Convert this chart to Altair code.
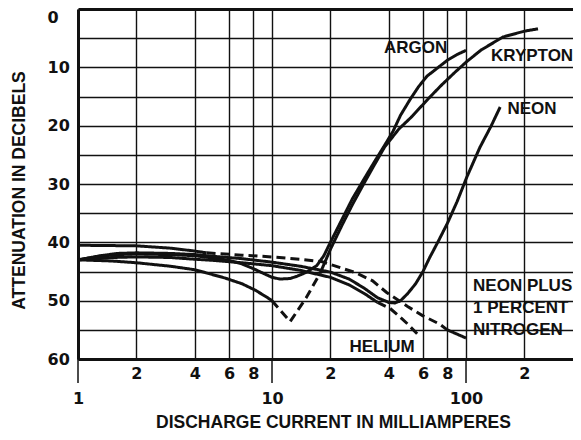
import altair as alt
import pandas as pd

# ---- data: discharge current (mA) and attenuation (dB) ----
ARGON_MA = [1, 1.3, 1.6, 2, 3, 4, 5, 6, 7, 8, 9, 10, 11, 12.4, 13.5, 15.1, 17, 18.5,
            20, 23, 26, 30, 34, 38, 42, 46, 51.5, 57, 63, 72, 80, 90, 100]
ARGON_DB = [43, 42.4, 42.1, 42, 42.1, 42.3, 42.7, 43.1, 43.7, 44.5, 45.3, 46, 46.3, 46.2, 45.8, 45.1, 44, 42.3,
            40, 36, 32.5, 29, 26, 23.4, 21, 18.2, 15.5, 13.3, 11.5, 10, 8.8, 7.8, 7.1]
ARGON_STYLE = ["solid"] * len(ARGON_MA)

KRYPTON_MA = [1, 1.5, 2, 3, 4, 5.7, 7, 8.2, 9.5, 10, 11, 12.4, 15, 17.7,
              20, 23, 26, 30, 34, 38, 45, 52, 58, 66, 75, 88, 101, 120, 155, 200, 235]
KRYPTON_DB = [43, 43.2, 43.5, 44.1, 44.7, 46.1, 47.1, 48.2, 49.5, 50, 51.6, 53.6, 49.5, 45.3,
              41.2, 37, 33.5, 29.7, 26.5, 23.7, 20.6, 18.6, 16.9, 14.9, 13, 10.8, 9, 7, 4.8, 3.8, 3.4]
KRYPTON_STYLE = ["solid"] * 9 + ["dashed"] * 4 + ["solid"] * 18

NEON_MA = [1, 1.3, 1.6, 2, 3, 4, 5, 7, 10, 14, 20, 25, 30, 35, 40, 43, 46, 50, 55, 60,
           65, 72, 80, 90, 101, 118, 135, 150]
NEON_DB = [43, 42.3, 41.9, 41.8, 41.9, 42.1, 42.4, 42.8, 43.4, 44.1, 45.1, 46.3, 47.9, 49.5, 50.3, 50.4, 50, 48.8, 47.1, 45,
           42.6, 39.8, 36.8, 33, 28.8, 23.7, 20, 16.8]
NEON_STYLE = ["solid"] * len(NEON_MA)

HELIUM_MA = [1, 1.5, 2, 3, 4, 5, 7, 10, 14, 20, 25, 30, 35, 40.5, 45, 50, 58]
HELIUM_DB = [43, 42.6, 42.5, 42.6, 42.9, 43.1, 43.5, 44, 44.8, 46, 47.3, 48.8, 50.3, 51.3, 52.6, 54, 56.2]
HELIUM_STYLE = ["solid"] * 12 + ["dashed"] * 5

NITROGEN_MA = [1, 2, 3, 4, 4.6, 7, 10, 14, 18, 20, 27, 33, 39, 50, 60, 73, 80, 100]
NITROGEN_DB = [40.5, 40.6, 41, 41.5, 41.8, 42.2, 42.5, 42.9, 43.3, 43.8, 45.2, 46.6, 48.6, 51, 52.6, 54, 55, 56.4]
NITROGEN_STYLE = ["solid"] * 4 + ["dashed"] * 12 + ["solid"] * 2

CENTER_LABELS = ["ARGON", "KRYPTON", "NEON", "HELIUM"]
CENTER_LABEL_MA = [55, 219, 219, 36.9]
CENTER_LABEL_DB = [6.7, 8.1, 17.1, 57.9]

LEFT_LABELS = ["NEON PLUS", "1 PERCENT", "NITROGEN"]
LEFT_LABEL_MA = [108.7, 108.7, 108.7]
LEFT_LABEL_DB = [47.5, 51.3, 55.0]

X_TICKS = [1, 2, 4, 6, 8, 10, 20, 40, 60, 80, 100, 200]
X_MAJOR = [1, 10, 100]
Y_TICKS = [0, 5, 10, 15, 20, 25, 30, 35, 40, 45, 50, 55, 60]


def build_rows(name, xs, ys, styles):
    rows = []
    seg = 0
    prev = styles[0]
    for i, (x, y, s) in enumerate(zip(xs, ys, styles)):
        if s != prev:
            rows.append({"seg": f"{name}-{seg}", "style": prev, "idx": i, "mA": x, "dB": y})
            seg += 1
            prev = s
        rows.append({"seg": f"{name}-{seg}", "style": s, "idx": i, "mA": x, "dB": y})
    return rows


rows = []
rows += build_rows("Argon", ARGON_MA, ARGON_DB, ARGON_STYLE)
rows += build_rows("Krypton", KRYPTON_MA, KRYPTON_DB, KRYPTON_STYLE)
rows += build_rows("Neon", NEON_MA, NEON_DB, NEON_STYLE)
rows += build_rows("Helium", HELIUM_MA, HELIUM_DB, HELIUM_STYLE)
rows += build_rows("Neon+N2", NITROGEN_MA, NITROGEN_DB, NITROGEN_STYLE)
curves = pd.DataFrame(rows)

center_labels = pd.DataFrame({"text": CENTER_LABELS, "mA": CENTER_LABEL_MA, "dB": CENTER_LABEL_DB})
left_labels = pd.DataFrame({"text": LEFT_LABELS, "mA": LEFT_LABEL_MA, "dB": LEFT_LABEL_DB})
majors = pd.DataFrame({"mA": X_MAJOR, "dB": [60] * len(X_MAJOR)})

NUM_FONT = "DejaVu Sans"
TXT_FONT = "Liberation Sans"
INK = "#111111"

# the plot runs off the right edge of the picture at about 356 mA
xscale = alt.Scale(type="log", domain=[1, 356], nice=False)
yscale = alt.Scale(domain=[0, 60], reverse=True, nice=False, zero=False)

major_test = "datum.value == 1 || datum.value == 10 || datum.value == 100"

x_axis = alt.Axis(
    values=X_TICKS,
    grid=True, gridColor=INK, gridWidth=1.4, gridOpacity=1,
    ticks=False,
    domain=True, domainColor=INK, domainWidth=3,
    labelExpr=(f"{major_test} ? format(datum.value, 'd') : "
               "format(datum.value / pow(10, floor(log(datum.value) / LN10 + 1e-9)), 'd')"),
    labelFont=NUM_FONT, labelFontSize=16, labelFontWeight="bold", labelColor=INK,
    labelPadding={"condition": {"test": major_test, "value": 31}, "value": 6},
    labelAlign="center",
    labelOverlap=False,
    title="DISCHARGE CURRENT IN MILLIAMPERES",
    titleFont=TXT_FONT, titleFontSize=17.5, titleFontWeight="bold", titleColor=INK,
    titleX=255, titleY=68, titleAlign="center", titleBaseline="alphabetic",
)

y_axis = alt.Axis(
    values=Y_TICKS,
    grid=True, gridColor=INK, gridOpacity=1,
    gridWidth={"condition": {"test": "datum.value == 0", "value": 3}, "value": 1.4},
    ticks=False,
    domain=True, domainColor=INK, domainWidth=3,
    labelExpr="datum.value % 10 == 0 ? format(datum.value, 'd') : ''",
    labelFont=NUM_FONT, labelFontSize=16, labelFontWeight="bold", labelColor=INK,
    labelAlign="left", labelPadding=31,
    labelBaseline={"condition": {"test": "datum.value == 0", "value": "top"}, "value": "middle"},
    labelOverlap=False,
    title="ATTENUATION IN DECIBELS",
    titleFont=TXT_FONT, titleFontSize=17.5, titleFontWeight="bold", titleColor=INK,
    titleAngle=270, titleX=-54, titleY=181, titleAlign="center", titleBaseline="alphabetic",
)

X = alt.X("mA:Q", scale=xscale, axis=x_axis)
Y = alt.Y("dB:Q", scale=yscale, axis=y_axis)

lines = alt.Chart(curves).mark_line(strokeWidth=3, color=INK, clip=True, strokeCap="butt").encode(
    x=X,
    y=Y,
    detail="seg:N",
    order=alt.Order("idx:Q"),
    strokeDash=alt.StrokeDash("style:N", scale=alt.Scale(domain=["solid", "dashed"], range=[[1, 0], [9, 5]]), legend=None),
)

major_ticks = alt.Chart(majors).mark_rule(color=INK, strokeWidth=1.5).encode(
    x=X,
    y=alt.value(350),
    y2=alt.value(374),
)

txt_center = alt.Chart(center_labels).mark_text(font=TXT_FONT, fontSize=17, fontWeight="bold", color=INK,
                                                align="center", baseline="middle").encode(
    x=X, y=Y, text="text:N",
)

txt_left = alt.Chart(left_labels).mark_text(font=TXT_FONT, fontSize=17, fontWeight="bold", color=INK,
                                            align="left", baseline="middle").encode(
    x=X, y=Y, text="text:N",
)

chart = alt.layer(lines, major_ticks, txt_center, txt_left).properties(
    width=495,
    height=350,
    autosize=alt.AutoSizeParams(type="none"),
    padding={"left": 70, "top": 1, "right": 0, "bottom": 73},
    background="white",
).configure_view(strokeWidth=0)

chart.save("out.html", embed_options={"renderer": "svg", "actions": False})
